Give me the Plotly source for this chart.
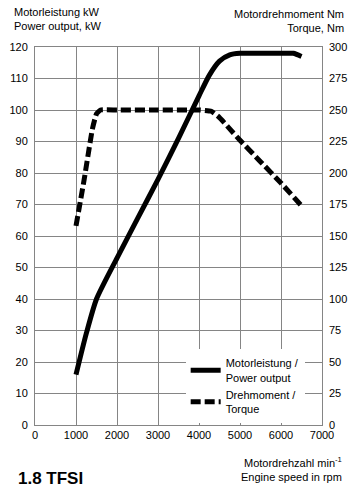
import plotly.graph_objects as go

rpm_power = [1000, 1250, 1500, 2000, 2500, 3000, 3500, 4000, 4250, 4500, 4750, 5000, 5500, 6000, 6300, 6500]
power_kw = [16, 29, 40, 53, 65.5, 78, 91, 104.5, 111, 115.5, 117.5, 118, 118, 118, 118, 117]

rpm_torque = [1000, 1200, 1400, 1500, 1600, 2000, 3000, 4000, 4300, 4500, 4750, 5000, 5500, 6000, 6500]
torque_nm = [158, 195, 235, 247, 250, 250, 250, 250, 249, 244, 235, 226, 209, 192, 174]

x_ticks = [0, 1000, 2000, 3000, 4000, 5000, 6000, 7000]
y1_ticks = list(range(0, 121, 10))
y2_ticks = list(range(0, 301, 25))

FONT = "Liberation Sans, Arial, sans-serif"
GRID = "#858585"

fig = go.Figure()
fig.add_trace(go.Scatter(
    x=rpm_power, y=power_kw, mode="lines", name="Motorleistung /<br>Power output",
    line=dict(color="black", width=5, shape="spline", smoothing=0.6), yaxis="y"))
fig.add_trace(go.Scatter(
    x=rpm_torque, y=torque_nm, mode="lines", name="Drehmoment /<br>Torque",
    line=dict(color="black", width=5, dash="10px,4px", shape="spline", smoothing=0.4), yaxis="y2"))

fig.update_layout(
    width=359, height=492,
    margin=dict(l=35, r=37, t=47, b=67, autoexpand=False),
    paper_bgcolor="white", plot_bgcolor="white",
    font=dict(family=FONT, size=11, color="black"),
    showlegend=True,
    legend=dict(
        x=0.525, y=0.2, xanchor="left", yanchor="top",
        bgcolor="white", borderwidth=0,
        font=dict(family=FONT, size=11, color="black"),
        tracegroupgap=4, itemwidth=30,
    ),
    xaxis=dict(
        range=[0, 7000], tickvals=x_ticks, ticktext=[str(v) for v in x_ticks],
        showgrid=True, gridcolor=GRID, gridwidth=1,
        showline=True, linecolor=GRID, linewidth=1, mirror=True,
        zeroline=False, ticks="", tickfont=dict(size=11), automargin=False,
    ),
    yaxis=dict(
        range=[0, 120], tickvals=y1_ticks,
        showgrid=True, gridcolor=GRID, gridwidth=1,
        showline=True, linecolor=GRID, linewidth=1, mirror=True,
        zeroline=False, ticks="", ticklabelstandoff=4, tickfont=dict(size=11),
        automargin=False,
    ),
    yaxis2=dict(
        range=[0, 300], tickvals=y2_ticks, overlaying="y", side="right",
        showgrid=False, showline=False, zeroline=False, ticks="",
        ticklabelstandoff=6, tickfont=dict(size=11), automargin=False,
    ),
    annotations=[
        dict(xref="paper", yref="paper", x=-0.08, y=1.034, xanchor="left", yanchor="bottom",
             text="Motorleistung kW<br>Power output, kW", showarrow=False, align="left",
             font=dict(size=11)),
        dict(xref="paper", yref="paper", x=1.085, y=1.03, xanchor="right", yanchor="bottom",
             text="Motordrehmoment Nm<br>Torque, Nm", showarrow=False, align="right",
             font=dict(size=11)),
        dict(xref="paper", yref="paper", x=1.075, y=-0.075, xanchor="right", yanchor="top",
             text="Motordrehzahl min<sup>-1</sup><br>Engine speed in rpm", showarrow=False,
             align="right", font=dict(size=11)),
        dict(xref="paper", yref="paper", x=-0.065, y=-0.112, xanchor="left", yanchor="top",
             text="<b>1.8 TFSI</b>", showarrow=False, align="left",
             font=dict(size=17)),
    ],
)

fig.write_html("out.html", config={"displayModeBar": False},
               post_script="document.body.style.margin='0';")
